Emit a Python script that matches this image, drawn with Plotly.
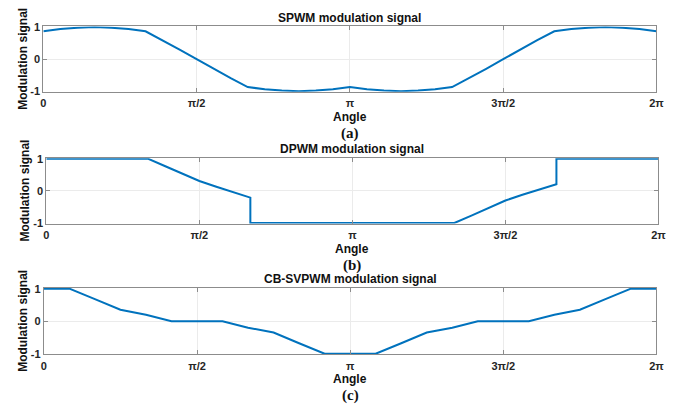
import plotly.graph_objects as go

# ---------------- data (angles in degrees) ----------------
spwm_angle = [0, 10, 20, 30, 40, 50, 60, 70, 80, 90, 100, 110, 120, 130, 140, 150, 160, 170, 180,
              190, 200, 210, 220, 230, 240, 250, 260, 270, 280, 290, 300, 310, 320, 330, 340, 350, 360]
spwm_value = [0.87, 0.94, 0.98, 1.00, 0.98, 0.94, 0.87, 0.59, 0.30, 0.00, -0.30, -0.59, -0.87,
              -0.94, -0.98, -1.00, -0.98, -0.94, -0.87, -0.94, -0.98, -1.00, -0.98, -0.94, -0.87,
              -0.59, -0.30, 0.00, 0.30, 0.59, 0.87, 0.94, 0.98, 1.00, 0.98, 0.94, 0.87]

dpwm_angle = [0, 60, 70, 80, 90, 100, 110, 120, 120, 180, 240, 250, 260, 270, 280, 290, 300, 300, 360]
dpwm_value = [1.00, 1.00, 0.77, 0.54, 0.31, 0.13, -0.04, -0.21, -1.00, -1.00, -1.00, -0.77, -0.54,
              -0.30, -0.12, 0.05, 0.21, 1.00, 1.00]

svpwm_angle = [0, 15, 30, 45, 60, 75, 90, 105, 120, 135, 150, 165, 180, 195, 210, 225, 240, 255,
               270, 285, 300, 315, 330, 345, 360]
svpwm_value = [1.00, 1.00, 0.68, 0.35, 0.20, 0.00, 0.00, 0.00, -0.20, -0.35, -0.68, -1.00, -1.00,
               -1.00, -0.68, -0.35, -0.20, 0.00, 0.00, 0.00, 0.20, 0.35, 0.68, 1.00, 1.00]

x_tick_vals = [0, 90, 180, 270, 360]
x_tick_text = ["0", "π/2", "π", "3π/2", "2π"]
y_tick_vals = [-1, 0, 1]
y_tick_text = ["-1", "0", "1"]

titles = ["SPWM modulation signal", "DPWM modulation signal", "CB-SVPWM modulation signal"]
labels = ["(a)", "(b)", "(c)"]
x_label = "Angle"
y_label = "Modulation signal"

# ---------------- layout geometry (pixels) ----------------
W, H = 694, 414
panels = [
    dict(l=41, r=664, t=22, b=89, title_y=13, angle_y=115, lab_y=132, ylab_x=20),
    dict(l=44, r=666, t=157, b=224, title_y=148, angle_y=250, lab_y=267, ylab_x=22),
    dict(l=41.5, r=664, t=290, b=358, title_y=281, angle_y=383, lab_y=400, ylab_x=20),
]
series = [(spwm_angle, spwm_value), (dpwm_angle, dpwm_value), (svpwm_angle, svpwm_value)]

LINE = "#0072BD"
AXC = "#8c8c8c"
TXT = "#262626"
FONT = "Liberation Sans, Arial, sans-serif"

fig = go.Figure()
annotations = []
for i, (p, (xs, ys)) in enumerate(zip(panels, series), start=1):
    xa = "x" if i == 1 else f"x{i}"
    ya = "y" if i == 1 else f"y{i}"
    fig.add_trace(go.Scatter(x=xs, y=ys, mode="lines", xaxis=xa, yaxis=ya,
                             line=dict(color=LINE, width=2), showlegend=False,
                             hoverinfo="skip"))
    common = dict(showline=True, mirror="ticks", linecolor=AXC, linewidth=1,
                  ticks="inside", ticklen=4, tickcolor=AXC, showgrid=True,
                  gridcolor="#ebebeb", gridwidth=1, zeroline=False,
                  tickfont=dict(family=FONT, size=11, color=TXT, weight="bold"))
    fig.layout[f"xaxis{'' if i == 1 else i}"] = dict(
        domain=[p["l"] / W, p["r"] / W], anchor=ya, range=[0, 360],
        tickvals=x_tick_vals, ticktext=x_tick_text, ticklabelstandoff=1, **common)
    fig.layout[f"yaxis{'' if i == 1 else i}"] = dict(
        domain=[1 - p["b"] / H, 1 - p["t"] / H], anchor=xa, range=[-1.02, 1.02],
        tickvals=y_tick_vals, ticktext=y_tick_text, **common)
    cx = (p["l"] + p["r"]) / 2 / W
    annotations += [
        dict(text=titles[i - 1], x=cx, y=1 - p["title_y"] / H, xref="paper", yref="paper",
             showarrow=False, xanchor="center", yanchor="middle",
             font=dict(family=FONT, size=12, color="#111", weight="bold")),
        dict(text=x_label, x=cx, y=1 - p["angle_y"] / H, xref="paper", yref="paper",
             showarrow=False, xanchor="center", yanchor="middle",
             font=dict(family=FONT, size=12, color="#111", weight="bold")),
        dict(text=labels[i - 1], x=cx, y=1 - p["lab_y"] / H, xref="paper", yref="paper",
             showarrow=False, xanchor="center", yanchor="middle",
             font=dict(family="Liberation Serif, Times New Roman, serif", size=15,
                       color="#111", weight="bold")),
        dict(text=y_label, x=p["ylab_x"] / W, y=1 - (p["t"] + p["b"]) / 2 / H,
             xref="paper", yref="paper", showarrow=False, textangle=-90,
             xanchor="center", yanchor="middle",
             font=dict(family=FONT, size=12, color="#111", weight="bold")),
    ]

fig.update_layout(width=W, height=H, margin=dict(l=0, r=0, t=0, b=0),
                  paper_bgcolor="white", plot_bgcolor="white",
                  annotations=annotations)

fig.write_html("out.html", config={"displayModeBar": False},
               post_script="document.body.style.margin='0px';"
                           "document.body.style.overflow='hidden';")
